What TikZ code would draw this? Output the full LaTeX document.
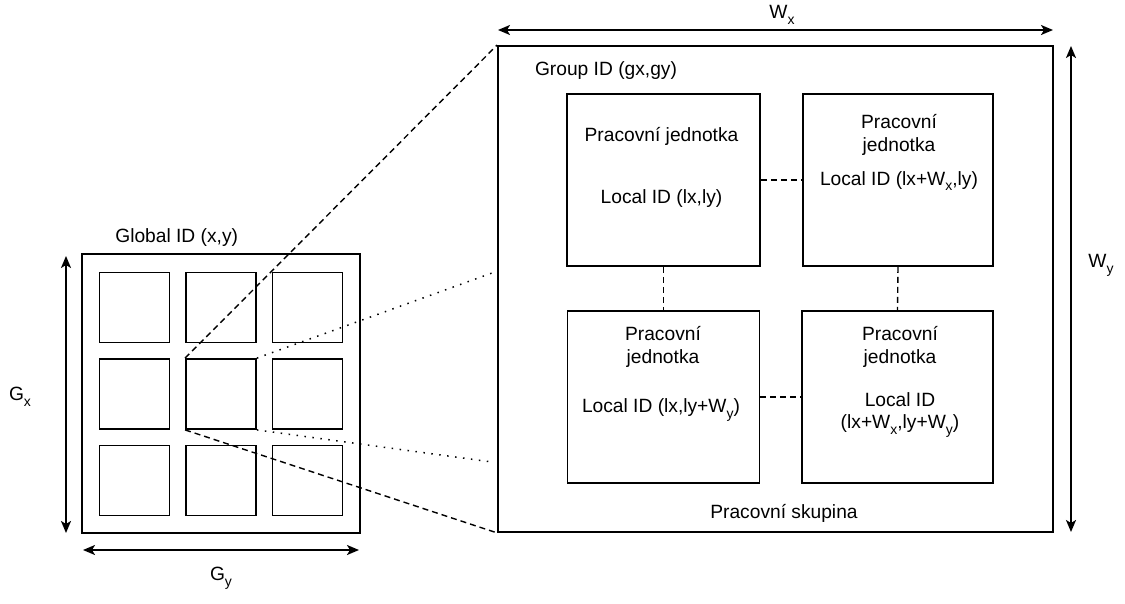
\documentclass[tikz,border=0pt]{standalone}
\usepackage{fontspec}
\setmainfont{Liberation Sans}
\usetikzlibrary{arrows.meta}
\newcommand{\dsub}[1]{\raisebox{-0.3em}{\fontsize{14}{14}\selectfont #1}}
\begin{document}
\begin{tikzpicture}[x=1pt,y=-1pt,
  every node/.style={font=\fontsize{19.2}{22.5}\selectfont},
  box/.style={draw, line width=1.8pt, inner sep=0pt},
  sq/.style={box, minimum width=70pt, minimum height=70pt},
  lbl/.style={align=center, inner sep=0pt},
  tipa/.tip={Stealth[length=12pt,width=10pt,inset=3pt]},
  dimarrow/.style={line width=1.8pt, tipa-tipa},
  linkdash/.style={line width=1.4pt, dash pattern=on 6pt off 4pt},
  linkdot/.style={line width=1.5pt, dash pattern=on 1.5pt off 6.5pt},
]
\fill[white] (0,0) rectangle (1125,603);
\useasboundingbox (0,0) rectangle (1125,603);

% left grid
\node[box, minimum width=278pt, minimum height=279pt] (outer) at (221,393.5) {};
\foreach \c/\x in {1/134.5,2/221,3/307.5}{
  \foreach \r/\y in {1/307.5,2/394,3/480.5}{
    \node[sq] (g\r\c) at (\x,\y) {};
  }
}
\node[lbl] (glob) at (176.7,238) {Global ID (x,y)};
\node[lbl] (gx) at (20,397) {G\dsub{x}};
\node[lbl] (gy) at (221,578) {G\dsub{y}};

\coordinate (gxa) at (66,256);
\coordinate (gxb) at (66,533);
\coordinate (gya) at (83,550);
\coordinate (gyb) at (359,550);
\draw[dimarrow] (gxa) -- (gxb);
\draw[dimarrow] (gya) -- (gyb);

% right group
\node[box, minimum width=555pt, minimum height=486pt] (big) at (775.5,289) {};
\node[box, minimum width=193pt, minimum height=172pt] (b1) at (663.5,180) {};
\node[box, minimum width=190pt, minimum height=172pt] (b2) at (898,180) {};
\node[box, minimum width=192pt, minimum height=172pt] (b3) at (663.5,397) {};
\node[box, minimum width=191pt, minimum height=172pt] (b4) at (897.5,397) {};

\node[lbl] (t1a) at (661.5,136) {Pracovní jednotka};
\node[lbl] (t1b) at (661.5,199) {Local ID (lx,ly)};
\node[lbl] (t2a) at (899,135) {Pracovní\\jednotka};
\node[lbl] (t2b) at (899,181) {Local ID (lx+W\dsub{x},ly)};
\node[lbl] (t3a) at (663,347) {Pracovní\\jednotka};
\node[lbl] (t3b) at (661,410) {Local ID (lx,ly+W\dsub{y})};
\node[lbl] (t4a) at (900,347) {Pracovní\\jednotka};
\node[lbl] (t4b) at (900,415) {Local ID\\(lx+W\dsub{x},ly+W\dsub{y})};

\node[lbl] (grp) at (606,71) {Group ID (gx,gy)};
\node[lbl] (sk) at (784,513) {Pracovní skupina};
\node[lbl] (wx) at (782,15) {W\dsub{x}};
\node[lbl] (wy) at (1101,265) {W\dsub{y}};

\coordinate (wxa) at (498,30);
\coordinate (wxb) at (1053,30);
\coordinate (wya) at (1071,46);
\coordinate (wyb) at (1071,532);
\draw[dimarrow] (wxa) -- (wxb);
\draw[dimarrow] (wya) -- (wyb);

% inner links
\draw[linkdash] (b1.east) -- (b2.west);
\draw[linkdash] (b3.east) -- (b4.west);
\draw[linkdash] (b1.south) -- (b3.north);
\draw[linkdash] (b2.south) -- (b4.north);

% zoom lines
\coordinate (d1) at (492,273);
\coordinate (d2) at (492,462);
\draw[linkdash] (g22.north west) -- (big.north west);
\draw[linkdash] (g22.south west) -- (big.south west);
\draw[linkdot] (g22.north east) -- (d1);
\draw[linkdot] (g22.south east) -- (d2);
\end{tikzpicture}
\end{document}
